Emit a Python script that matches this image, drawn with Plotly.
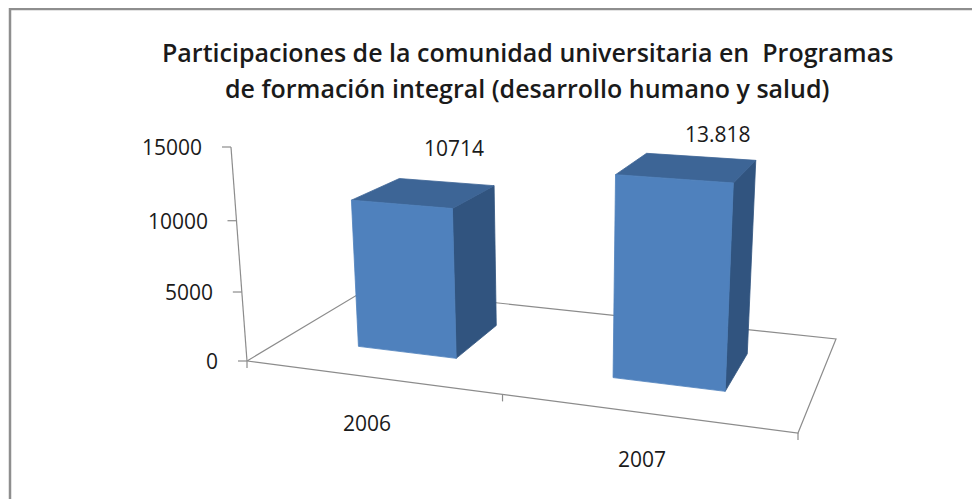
import numpy as np
import plotly.graph_objects as go

# ---------------- data ----------------
categories = ["2006", "2007"]
values = [10714, 13818]
value_labels = ["10714", "13.818"]
y_ticks = [0, 5000, 10000, 15000]
y_tick_labels = ["0", "5000", "10000", "15000"]
title_lines = ["Participaciones de la comunidad universitaria en  Programas",
               "de formación integral (desarrollo humano y salud)"]

# ---------------- layout / projection constants ----------------
PAGE_PAD = 8                      # default body margin of the html page
W, H = 980 - PAGE_PAD, 499 - PAGE_PAD
Y_MAX = 15000
# floor corners (category units X, depth Z) -> screen pixels
FLOOR_PTS = [((0, 0), (247, 361)), ((2, 0), (798, 433)),
             ((2, 1), (836, 339)), ((0, 1), (367, 289))]
V_VANISH = (562.0, 4570.0)   # vanishing point of vertical edges
AXIS_TOP_Y = 147.0           # screen y of Y_MAX on the value axis
BAR_X = (0.31, 0.71)         # bar extent inside each category
BAR_Z = (0.29, 0.71)         # bar depth extent
LABEL_OFFSETS = [(8, -34), (18, -23)]

FRONT = "#4F81BD"
TOP = "#3D6596"
SIDE = "#31547F"
LINE = "#8C8C8C"
TXT = "#1a1a1a"
NUM_FONT = "Open Sans, Arial, sans-serif"
TITLE_FONT = "Open Sans, Arial, sans-serif"

# homography for the floor plane
A, b = [], []
for (X, Z), (x, y) in FLOOR_PTS:
    A.append([X, Z, 1, 0, 0, 0, -X * x, -Z * x]); b.append(x)
    A.append([0, 0, 0, X, Z, 1, -X * y, -Z * y]); b.append(y)
hv = np.linalg.solve(np.array(A, float), np.array(b, float))
Hm = np.array([[hv[0], hv[1], hv[2]], [hv[3], hv[4], hv[5]], [hv[6], hv[7], 1.0]])
y0 = Hm[1, 2]
t = (AXIS_TOP_Y - y0) / (V_VANISH[1] - AXIS_TOP_Y)
s = t / Y_MAX
vcol = s * np.array([V_VANISH[0], V_VANISH[1], 1.0])


def proj(X, Y, Z):
    v = Hm @ np.array([X, Z, 1.0]) + Y * vcol
    return v[0] / v[2], v[1] / v[2]


fig = go.Figure()


def poly(pts, fill, line=None, width=0.8, close=True):
    xs = [p[0] for p in pts]
    ys = [p[1] for p in pts]
    if close:
        xs.append(xs[0]); ys.append(ys[0])
    fig.add_trace(go.Scatter(
        x=xs, y=ys, mode="lines", fill="toself" if fill else None,
        fillcolor=fill, line=dict(color=line or fill, width=width),
        hoverinfo="skip", showlegend=False))


# floor outline
floor = [proj(0, 0, 0), proj(2, 0, 0), proj(2, 0, 1), proj(0, 0, 1)]
poly(floor, None, LINE, 1.2)
# value axis line
poly([proj(0, 0, 0), proj(0, Y_MAX, 0)], None, LINE, 1.2, close=False)
# value axis ticks + labels
for tv, tl in zip(y_ticks, y_tick_labels):
    px, py = proj(0, tv, 0)
    poly([(px - 9, py), (px, py)], None, LINE, 1.2, close=False)
    fig.add_annotation(x=px - 27, y=py, text=tl, showarrow=False,
                       xanchor="right", yanchor="middle",
                       font=dict(family=NUM_FONT, size=21, color=TXT))
# category ticks + labels
for i in range(len(categories) + 1):
    px, py = proj(i, 0, 0)
    poly([(px, py), (px, py + 7)], None, LINE, 1.2, close=False)
for i, c in enumerate(categories):
    px, py = proj(i + 0.5, 0, 0)
    fig.add_annotation(x=px - 3, y=py + 46, text=c, showarrow=False,
                       xanchor="center", yanchor="middle",
                       font=dict(family=NUM_FONT, size=21, color=TXT))

# bars
for i, v in enumerate(values):
    x0, x1 = i + BAR_X[0], i + BAR_X[1]
    z0, z1 = BAR_Z
    poly([proj(x1, 0, z0), proj(x1, 0, z1), proj(x1, v, z1), proj(x1, v, z0)], SIDE)
    poly([proj(x0, v, z0), proj(x1, v, z0), proj(x1, v, z1), proj(x0, v, z1)], TOP)
    poly([proj(x0, 0, z0), proj(x1, 0, z0), proj(x1, v, z0), proj(x0, v, z0)], FRONT)
    lx, ly = proj((x0 + x1) / 2, v, z1)
    ox, oy = LABEL_OFFSETS[i]
    fig.add_annotation(x=lx + ox, y=ly + oy, text=value_labels[i], showarrow=False,
                       xanchor="center", yanchor="middle",
                       font=dict(family=NUM_FONT, size=21, color=TXT))

# title
for k, line in enumerate(title_lines):
    fig.add_annotation(x=527, y=52 + 36 * k, text=line, showarrow=False,
                       xanchor="center", yanchor="middle",
                       font=dict(family=TITLE_FONT, size=25, color=TXT, weight=600))

# chart border
fig.add_shape(type="rect", x0=10, y0=9, x1=1000, y1=520,
              line=dict(color="#8E8E8E", width=2.5), layer="below")

fig.update_layout(
    width=W, height=H, margin=dict(l=0, r=0, t=0, b=0),
    paper_bgcolor="white", plot_bgcolor="white",
    xaxis=dict(range=[PAGE_PAD, 980], visible=False, fixedrange=True),
    yaxis=dict(range=[499, PAGE_PAD], visible=False, fixedrange=True),
    showlegend=False,
)
fig.write_html("out.html")
